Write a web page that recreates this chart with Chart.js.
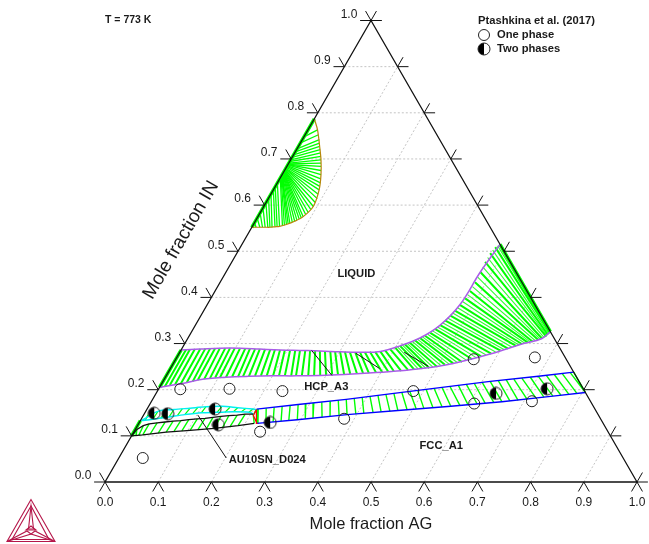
<!DOCTYPE html>
<html>
<head>
<meta charset="utf-8">
<style>
html,body{margin:0;padding:0;background:#fff}
canvas{display:block}
</style>
<script src="https://cdn.jsdelivr.net/npm/chart.js@4/dist/chart.umd.min.js"></script>
</head>
<body>
<canvas id="ternary" width="649" height="544"></canvas>
<script>
const tickValues = [0,0.1,0.2,0.3,0.4,0.5,0.6,0.7,0.8,0.9,1];

// experiments, [AG] and [IN]
const onePhaseAg = [0.045,0.041,0.133,0.235,0.237,0.381,0.481,0.560,0.673,0.609,0.715];
const onePhaseIn = [0.052,0.201,0.202,0.197,0.109,0.137,0.197,0.266,0.270,0.170,0.175];
const twoPhaseAg = [0.018,0.044,0.128,0.151,0.246,0.639,0.730];
const twoPhaseIn = [0.149,0.148,0.158,0.124,0.129,0.192,0.202];

// liquid miscibility fan, tie lines run from the curve to the AG=0 edge
const fanCurveAg = [0,0.008,0.015,0.020,0.025,0.030,0.034,0.038,0.043,0.047,0.051,0.056,0.062,0.067,0.074,0.080,0.085,0.090,0.093,0.092,0.086,0.081,0.073,0.064,0.057,0.049,0.040,0.032,0.018,0];
const fanCurveIn = [0.552,0.552,0.552,0.552,0.552,0.552,0.552,0.552,0.553,0.553,0.554,0.555,0.558,0.561,0.565,0.570,0.575,0.584,0.597,0.614,0.633,0.648,0.666,0.684,0.698,0.713,0.727,0.742,0.763,0.787];
const fanEdgeIn = [0.552,0.562,0.572,0.583,0.594,0.605,0.615,0.624,0.633,0.640,0.648,0.659,0.664,0.665,0.668,0.670,0.672,0.674,0.675,0.678,0.680,0.684,0.687,0.688,0.691,0.698,0.709,0.722,0.748,0.787];
const fanExtraAg = [0.059,0.0645,0.0705,0.077,0.0825,0.0875,0.0915,0.0925,0.089,0.0835,0.077,0.0685,0.0605,0.053,0.0445,0.036,0.025];
const fanExtraIn = [0.5565,0.5595,0.563,0.5675,0.5725,0.5795,0.5905,0.6055,0.6235,0.6405,0.657,0.675,0.691,0.7055,0.720,0.7345,0.7525];
const fanExtraEdge = [0.6615,0.6645,0.6665,0.669,0.671,0.673,0.6745,0.6765,0.679,0.682,0.6855,0.6875,0.6895,0.6945,0.7035,0.7155,0.735];

// HCP_A3 + LIQUID band
const hcpTopAg = [0,0.009,0.016,0.025,0.035,0.044,0.053,0.062,0.071,0.081,0.090,0.099,0.109,0.119,0.128,0.138,0.147,0.157,0.167,0.176,0.186,0.195,0.205,0.215,0.224,0.234,0.243,0.253,0.262,0.272,0.282,0.291,0.301,0.310,0.320,0.330,0.339,0.348,0.357,0.367,0.376,0.384,0.392,0.400,0.407,0.415,0.422,0.429,0.436,0.443,0.450,0.454,0.460,0.464,0.468,0.473,0.475,0.478,0.479,0.479,0.478,0.476,0.476,0.479,0.485];
const hcpTopIn = [0.286,0.287,0.287,0.288,0.288,0.289,0.289,0.290,0.290,0.290,0.290,0.290,0.290,0.289,0.289,0.288,0.288,0.288,0.287,0.287,0.286,0.286,0.286,0.285,0.285,0.285,0.285,0.284,0.284,0.283,0.283,0.283,0.282,0.282,0.281,0.281,0.281,0.281,0.282,0.282,0.283,0.285,0.288,0.291,0.295,0.298,0.302,0.307,0.312,0.317,0.323,0.332,0.340,0.350,0.361,0.371,0.384,0.398,0.414,0.433,0.455,0.477,0.496,0.509,0.515];
const hcpLowAg = [0,0.009,0.017,0.026,0.036,0.046,0.056,0.064,0.075,0.085,0.094,0.103,0.114,0.125,0.136,0.145,0.156,0.167,0.178,0.189,0.201,0.212,0.223,0.235,0.244,0.255,0.267,0.278,0.289,0.300,0.311,0.322,0.333,0.344,0.356,0.367,0.378,0.391,0.402,0.413,0.423,0.436,0.448,0.459,0.473,0.486,0.499,0.512,0.526,0.541,0.557,0.571,0.587,0.600,0.613,0.625,0.634,0.644,0.652,0.660,0.666,0.672,0.673,0.675,0.674];
const hcpLowIn = [0.205,0.207,0.210,0.212,0.213,0.216,0.218,0.221,0.223,0.225,0.226,0.226,0.227,0.228,0.228,0.229,0.229,0.230,0.230,0.230,0.230,0.230,0.230,0.230,0.230,0.230,0.230,0.230,0.231,0.231,0.232,0.232,0.233,0.234,0.235,0.236,0.236,0.237,0.238,0.239,0.240,0.241,0.243,0.244,0.246,0.247,0.250,0.254,0.257,0.260,0.266,0.272,0.278,0.285,0.289,0.295,0.299,0.302,0.304,0.308,0.311,0.315,0.319,0.323,0.326];
// thinner tie lines between those on the right of the band
const hcpExtraTopAg = [0.4035,0.411,0.4185,0.4255,0.4325,0.4395,0.4465,0.452,0.457,0.462,0.466,0.4705,0.474,0.4765,0.4785,0.479,0.4785,0.477,0.476,0.4775,0.482];
const hcpExtraTopIn = [0.293,0.2965,0.300,0.3045,0.3095,0.3145,0.320,0.3275,0.336,0.345,0.3555,0.366,0.3775,0.391,0.406,0.4235,0.444,0.466,0.4865,0.5025,0.512];
const hcpExtraLowAg = [0.466,0.4795,0.4925,0.5055,0.519,0.5335,0.549,0.564,0.579,0.5935,0.6065,0.619,0.6295,0.639,0.648,0.656,0.663,0.669,0.6725,0.674,0.6745];
const hcpExtraLowIn = [0.245,0.2465,0.2485,0.252,0.2555,0.2585,0.263,0.269,0.275,0.2815,0.287,0.292,0.297,0.3005,0.303,0.306,0.3095,0.313,0.317,0.321,0.3245];

// FCC_A1 + HCP_A3 band
const fccTopAg = [0.206,0.209,0.223,0.237,0.251,0.265,0.279,0.293,0.307,0.321,0.336,0.350,0.364,0.378,0.392,0.405,0.419,0.433,0.447,0.461,0.475,0.489,0.503,0.517,0.531,0.545,0.559,0.573,0.587,0.601,0.615,0.629,0.643,0.657,0.671,0.686,0.700,0.714,0.728,0.742,0.756,0.762];
const fccTopIn = [0.158,0.158,0.160,0.162,0.164,0.166,0.168,0.169,0.171,0.173,0.175,0.177,0.179,0.181,0.183,0.186,0.188,0.190,0.192,0.194,0.196,0.198,0.201,0.203,0.205,0.207,0.210,0.212,0.214,0.216,0.218,0.220,0.222,0.223,0.225,0.227,0.229,0.231,0.233,0.235,0.237,0.238];
const fccLowAg = [0.222,0.224,0.238,0.251,0.265,0.279,0.294,0.308,0.322,0.338,0.352,0.368,0.382,0.398,0.412,0.429,0.443,0.459,0.473,0.490,0.506,0.520,0.536,0.552,0.568,0.584,0.599,0.615,0.629,0.645,0.659,0.673,0.688,0.704,0.720,0.733,0.749,0.763,0.777,0.791,0.806,0.806];
const fccLowIn = [0.127,0.127,0.129,0.130,0.132,0.133,0.135,0.137,0.138,0.140,0.142,0.144,0.146,0.147,0.149,0.150,0.152,0.153,0.155,0.156,0.158,0.159,0.161,0.163,0.164,0.166,0.167,0.169,0.171,0.172,0.174,0.176,0.177,0.179,0.181,0.184,0.186,0.188,0.190,0.192,0.194,0.194];

// AU10SN_D024 + HCP_A3 band (black outline)
const auTopAg = [0,0.003,0.011,0.020,0.034,0.048,0.062,0.076,0.090,0.105,0.119,0.133,0.147,0.161,0.176,0.190,0.205];
const auTopIn = [0.100,0.114,0.122,0.126,0.128,0.130,0.132,0.133,0.135,0.137,0.138,0.140,0.142,0.144,0.145,0.147,0.147];
const auLowAg = [0,0.008,0.013,0.020,0.033,0.047,0.061,0.075,0.089,0.104,0.118,0.133,0.147,0.162,0.175,0.189,0.217];
const auLowIn = [0.100,0.101,0.101,0.102,0.104,0.106,0.108,0.110,0.111,0.112,0.113,0.114,0.116,0.117,0.119,0.122,0.127];

// AU10SN_D024 + FCC_A1 band (cyan outline)
const cyanTopAg = [0.002,0.008,0.023,0.037,0.051,0.066,0.080,0.094,0.108,0.123,0.138,0.154,0.169,0.185,0.199,0.206];
const cyanTopIn = [0.133,0.146,0.153,0.155,0.157,0.159,0.160,0.162,0.163,0.164,0.164,0.162,0.161,0.160,0.158,0.157];
const cyanLowAg = [0.002,0.009,0.022,0.036,0.050,0.064,0.077,0.091,0.106,0.121,0.135,0.150,0.165,0.180,0.195,0.206];
const cyanLowIn = [0.133,0.134,0.136,0.138,0.141,0.144,0.146,0.149,0.150,0.150,0.151,0.151,0.152,0.152,0.151,0.147];

// three phase triangle
const triAg = [0.206,0.207,0.222,0.206];
const triIn = [0.157,0.144,0.127,0.157];

// black tie lines
const blackAg1 = [0.246,0.332,0.422];
const blackIn1 = [0.285,0.279,0.281];
const blackAg2 = [0.311,0.393,0.482];
const blackIn2 = [0.231,0.246,0.251];

// tie lines lying on the triangle edges
const edgeAg1 = [0,0,0.485,0];
const edgeIn1 = [0.552,0.205,0.515,0.100];
const edgeAg2 = [0,0,0.674,0];
const edgeIn2 = [0.787,0.286,0.326,0.133];

// pointer to the AU10SN_D024 label
const pointerAg = [0.102,0.202];
const pointerIn = [0.145,0.052];

const phaseNames = ["LIQUID","HCP_A3","FCC_A1","AU10SN_D024"];
const phaseAg = [0.247,0.313,0.593,0.281];
const phaseIn = [0.451,0.206,0.078,0.048];

const GAP = {x:NaN,y:NaN};
const TICK = 0.0205;

function tern(ag, mi){ return {x: ag + mi/2, y: mi}; }
function curve(ag, mi){ return ag.map((v,i)=>tern(v,mi[i])); }
// keeps every n-th point so rounding in the read values does not show as jitter
function thin(pts, n){ return pts.filter((p,i)=>i%n===0||i===pts.length-1); }
function segs(pairs){
  const pts = [];
  pairs.forEach(p=>{ pts.push(tern(p[0],p[1]), tern(p[2],p[3]), GAP); });
  return pts;
}
function ties(a1,i1,a2,i2){ return segs(a1.map((v,i)=>[v,i1[i],a2[i],i2[i]])); }

function lineSet(data, color, width, order, dash, tension){
  return {data, showLine:true, borderColor:color, borderWidth:width, pointRadius:0,
          borderDash:dash||[], order, clip:false, spanGaps:false, tension:tension||0};
}

const inner = tickValues.slice(1,-1);
const gridPts = segs(inner.map(v=>[0,v,1-v,v]).concat(inner.map(v=>[v,0,v,1-v])));
const tickPts = segs([].concat(
  tickValues.map(v=>[0,v,-TICK,v]),
  tickValues.map(v=>[0,v,-TICK,v+TICK]),
  tickValues.map(v=>[1-v,v,1-v+TICK,v]),
  tickValues.map(v=>[1-v,v,1-v,v+TICK]),
  tickValues.map(v=>[v,0,v,-TICK]),
  tickValues.map(v=>[v,0,v+TICK,-TICK])
));

// half filled marker, the right half stays see through
function halfMark(r){
  const c = document.createElement("canvas");
  c.width = c.height = r*2+2;
  const g = c.getContext("2d");
  g.fillStyle = "#000";
  g.beginPath(); g.arc(r+1,r+1,r,Math.PI/2,Math.PI*1.5); g.fill();
  g.strokeStyle = "#222"; g.lineWidth = 1;
  g.beginPath(); g.arc(r+1,r+1,r,0,Math.PI*2); g.stroke();
  return c;
}
const half = halfMark(6);

function logo(ctx){
  ctx.save();
  ctx.strokeStyle = "#b5174a"; ctx.lineWidth = 1.1;
  const poly = p=>{ ctx.beginPath(); p.forEach((q,i)=>i?ctx.lineTo(q[0],q[1]):ctx.moveTo(q[0],q[1])); ctx.closePath(); ctx.stroke(); };
  poly([[31,499.5],[7,541.5],[55,541.5]]);
  poly([[31,506],[12,539.5],[49,539.5]]);
  poly([[31,526],[26,530],[36,530]]);
  poly([[31,506],[28.5,529],[33.5,529]]);
  poly([[7,541.5],[27,531],[31,534]]);
  poly([[55,541.5],[35,531],[31,534]]);
  ctx.restore();
}

const texts = {
  id:"texts",
  afterDatasetsDraw(chart){
    const {ctx, scales:{x,y}} = chart;
    ctx.save();
    ctx.textBaseline = "middle";
    ctx.fillStyle = "#1a1a1a";
    // tick labels on the left edge
    ctx.font = "12px 'Liberation Sans'";
    ctx.textAlign = "center";
    tickValues.forEach(v=>{
      ctx.fillText(v.toFixed(1), x.getPixelForValue(v/2)-22, y.getPixelForValue(v)-6);
    });
    ctx.font = "bold 11.2px 'Liberation Sans'";
    phaseNames.forEach((n,i)=>{
      const p = tern(phaseAg[i],phaseIn[i]);
      ctx.fillText(n, x.getPixelForValue(p.x), y.getPixelForValue(p.y));
    });
    ctx.textAlign = "left";
    ctx.fillText("Ptashkina et al. (2017)", 478, 21);
    ctx.fillText("One phase", 497, 35);
    ctx.fillText("Two phases", 497, 49);
    ctx.font = "bold 10.5px 'Liberation Sans'";
    ctx.fillText("T = 773 K", 105, 20);
    ctx.strokeStyle = "#222"; ctx.lineWidth = 1;
    ctx.beginPath(); ctx.arc(484,35,5.5,0,Math.PI*2); ctx.stroke();
    ctx.drawImage(half,477,42);
    // left axis title
    ctx.save();
    ctx.translate(181,240);
    ctx.rotate(-Math.PI/3);
    ctx.textAlign = "center";
    ctx.font = "19px 'Liberation Sans'";
    ctx.fillText("Mole fraction IN",0,0);
    ctx.restore();
    logo(ctx);
    ctx.restore();
  }
};

new Chart(document.getElementById("ternary"), {
  type: "scatter",
  data: {
    datasets: [
      lineSet(gridPts, "#c4c4c4", 1, 20, [2,2]),
      lineSet(ties(fanCurveAg,fanCurveIn,fanCurveAg.map(()=>0),fanEdgeIn), "#00ff00", 1.3, 15),
      lineSet(ties(fanExtraAg,fanExtraIn,fanExtraAg.map(()=>0),fanExtraEdge), "#00ff00", 1.3, 15),
      lineSet(ties(hcpTopAg,hcpTopIn,hcpLowAg,hcpLowIn), "#00ff00", 2, 15),
      lineSet(ties(hcpExtraTopAg,hcpExtraTopIn,hcpExtraLowAg,hcpExtraLowIn), "#33ff33", 1.1, 15),
      lineSet(ties(fccTopAg,fccTopIn,fccLowAg,fccLowIn), "#00ff00", 1.4, 15),
      lineSet(ties(auTopAg,auTopIn,auLowAg,auLowIn), "#00ff00", 1.4, 15),
      lineSet(ties(cyanTopAg,cyanTopIn,cyanLowAg,cyanLowIn), "#00ff00", 1.2, 15),
      lineSet(ties(edgeAg1,edgeIn1,edgeAg2,edgeIn2), "#00ff00", 3.5, 14),
      lineSet(thin(curve(fanCurveAg,fanCurveIn),2), "#b8860b", 1.2, 10, null, 0.3),
      lineSet(thin(curve(hcpTopAg,hcpTopIn),4), "#a95ce8", 1.5, 10, null, 0.4),
      lineSet(thin(curve(hcpLowAg,hcpLowIn),4), "#a95ce8", 1.5, 10, null, 0.4),
      lineSet(thin(curve(fccTopAg,fccTopIn),6), "#0000ff", 1.4, 10),
      lineSet(thin(curve(fccLowAg,fccLowIn),6), "#0000ff", 1.4, 10),
      lineSet(curve(auTopAg,auTopIn), "#111", 1.3, 10),
      lineSet(thin(curve(auLowAg,auLowIn),3), "#111", 1.3, 10),
      lineSet(thin(curve(cyanTopAg,cyanTopIn),2), "#00f0f0", 1.5, 10, null, 0.3),
      lineSet(thin(curve(cyanLowAg,cyanLowIn),2), "#00f0f0", 1.5, 10, null, 0.3),
      lineSet(curve(triAg,triIn), "#ff0000", 1.2, 9),
      lineSet(ties(blackAg1,blackIn1,blackAg2,blackIn2), "#111", 1, 8),
      lineSet(curve(pointerAg,pointerIn), "#111", 1, 8),
      lineSet(curve([0,1,0,0],[0,0,1,0]), "#111", 1.3, 6),
      lineSet(tickPts, "#111", 1, 6),
      {data:curve(onePhaseAg,onePhaseIn), pointRadius:5.5, pointStyle:"circle", borderColor:"#222", borderWidth:1,
       backgroundColor:"transparent", order:1, clip:false},
      {data:curve(twoPhaseAg,twoPhaseIn), pointRadius:6, pointStyle:half, order:1, clip:false}
    ]
  },
  options: {
    responsive: false,
    animation: false,
    devicePixelRatio: 1,
    layout: {padding:{left:105, right:12, top:20.5, bottom:0}},
    plugins: {legend:{display:false}, tooltip:{enabled:false}},
    scales: {
      x: {
        min:0, max:1,
        grid:{display:false, drawTicks:false},
        border:{display:false},
        afterBuildTicks(s){ s.ticks = tickValues.map(v=>({value:v})); },
        afterFit(s){ s.height = 62; s.paddingLeft = 0; s.paddingRight = 0; },
        ticks:{autoSkip:false, maxRotation:0, padding:13, color:"#1a1a1a",
               font:{family:"'Liberation Sans'", size:12}, callback:v=>Number(v).toFixed(1)},
        title:{display:true, text:"Mole fraction AG", color:"#1a1a1a",
               font:{family:"'Liberation Sans'", size:16.5}, padding:{top:0, bottom:10}}
      },
      y: {min:0, max:1, display:false}
    }
  },
  plugins: [texts]
});
</script>
</body>
</html>
